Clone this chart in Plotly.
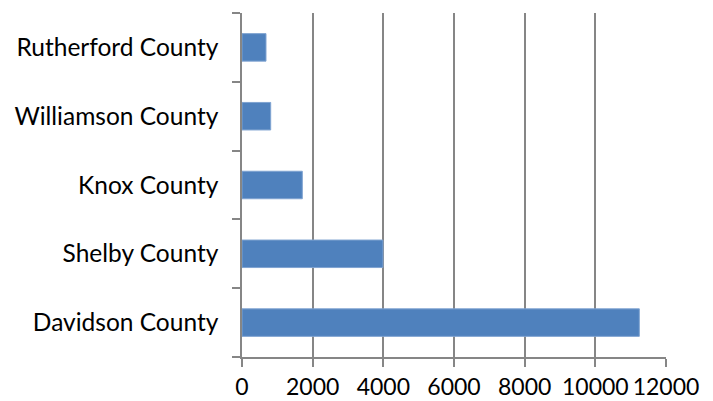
import plotly.graph_objects as go

counties = ["Davidson County", "Shelby County", "Knox County", "Williamson County", "Rutherford County"]
values = [11245, 3990, 1707, 812, 679]
x_ticks = [0, 2000, 4000, 6000, 8000, 10000, 12000]

fig = go.Figure(go.Bar(
    x=values, y=counties, orientation="h",
    marker=dict(color="#4F81BD", line=dict(color="#7FA3D1", width=1)),
    width=0.4,
))

fig.update_layout(
    width=705, height=393,
    margin=dict(l=234, r=47, t=5, b=44),
    plot_bgcolor="white", paper_bgcolor="white",
    showlegend=False,
    font=dict(family="Lato, Open Sans, sans-serif", size=23, color="#000000"),
)
fig.update_xaxes(
    range=[0, 12000], tickvals=x_ticks, ticktext=[str(v) for v in x_ticks],
    showgrid=True, gridcolor="#868686", gridwidth=1.5,
    showline=True, linecolor="#868686", linewidth=1.5,
    ticks="outside", ticklen=8, tickcolor="#868686", tickwidth=1.5,
    zeroline=False, mirror=False, automargin=False,
    ticklabelstandoff=1,
    tickfont=dict(size=23),
)
fig.update_yaxes(
    type="category", categoryorder="array", categoryarray=counties,
    showgrid=False, showline=True, linecolor="#868686", linewidth=1.5,
    ticks="outside", ticklen=8, tickcolor="#868686", tickwidth=1.5,
    tickson="boundaries", ticklabelstandoff=17, automargin=False,
    tickfont=dict(size=24.5),
)

fig.write_html("out.html")
